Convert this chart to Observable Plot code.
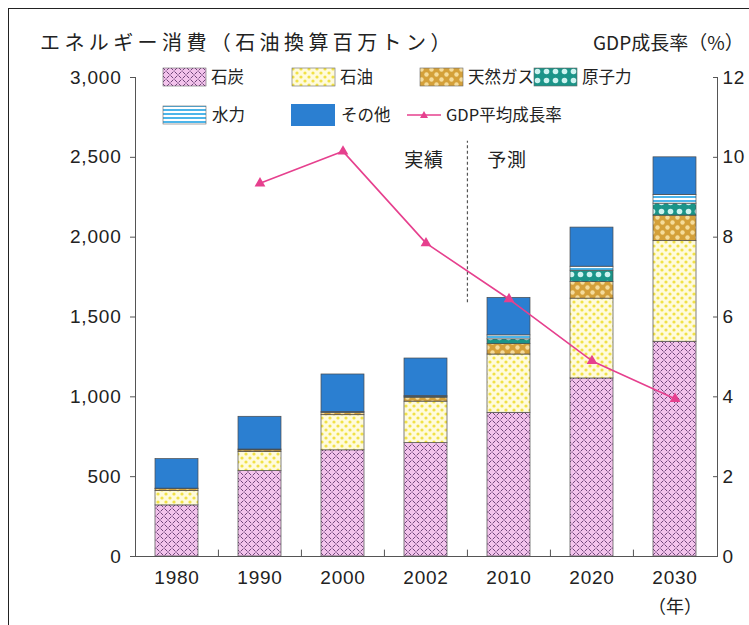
<!DOCTYPE html>
<html><head><meta charset="utf-8">
<script src="https://cdn.jsdelivr.net/npm/d3@7"></script>
<script src="https://cdn.jsdelivr.net/npm/@observablehq/plot@0.6"></script>
<style>
html,body{margin:0;padding:0;background:#fff;overflow:hidden}
#wrap{position:relative;width:749px;height:625px;overflow:hidden;font-family:"Noto Sans CJK JP","Liberation Sans",sans-serif;color:#222}
.frame{position:absolute;left:8px;top:8px;width:800px;height:700px;border-left:1.5px solid #222;border-top:1.5px solid #222;box-sizing:border-box}
.t{position:absolute;white-space:nowrap;line-height:1}
#chart{position:absolute;left:0;top:0}
#chart svg text{letter-spacing:0.8px}
.leg{position:absolute;white-space:nowrap;font-size:16.5px;line-height:1}
#legend svg{position:absolute}
</style></head><body>
<svg width="0" height="0" style="position:absolute">
 <defs>
  <pattern id="p-coal" width="8" height="8" patternUnits="userSpaceOnUse">
   <rect width="8" height="8" fill="#f3c3ec"/>
   <path d="M0.5,0.5 L3.2,3.2 M4.5,4.5 L7.5,7.5 M4.6,3.4 L7.4,0.6 M0.6,7.4 L3.4,4.6" stroke="#6f4579" stroke-width="1"/>
  </pattern>
  <pattern id="p-oil" width="8" height="8" patternUnits="userSpaceOnUse">
   <rect width="8" height="8" fill="#fffbdc"/>
   <circle cx="2" cy="2" r="1.6" fill="#f1e145"/>
   <circle cx="6" cy="6" r="1.6" fill="#f1e145"/>
  </pattern>
  <pattern id="p-gas" width="10" height="10" patternUnits="userSpaceOnUse">
   <rect width="10" height="10" fill="#d4a03a"/>
   <circle cx="2.5" cy="2.5" r="2.2" fill="#f5dc9c"/>
   <circle cx="7.5" cy="7.5" r="2.2" fill="#f5dc9c"/>
  </pattern>
  <pattern id="p-nuc" width="9" height="9" patternUnits="userSpaceOnUse">
   <rect width="9" height="9" fill="#1b9488"/>
   <circle cx="4.5" cy="4.5" r="2.8" fill="#cdf3f0"/>
  </pattern>
  <pattern id="p-hydro" width="4" height="4" patternUnits="userSpaceOnUse">
   <rect width="4" height="4" fill="#ffffff"/>
   <rect width="4" height="2" fill="#4cb5ea"/>
  </pattern>
 </defs>
</svg>
<div id="wrap">
 <div class="frame"></div>
 <div id="chart"></div>
 <div class="t" style="left:40px;top:32px;font-size:20px;letter-spacing:4.4px">エネルギー消費（石油換算百万トン）</div>
 <div class="t" style="left:593px;top:32px;font-size:19px;letter-spacing:0px">GDP成長率（%）</div>
 <div class="t" style="left:648px;top:596px;font-size:18px">（年）</div>
 <div id="legend"></div>
</div>
<script>
// ---- data ----
const years = ["1980","1990","2000","2002","2010","2020","2030"];
const coal    = [320, 535, 665, 710, 900, 1115, 1345];
const oil     = [90, 120, 220, 260, 365, 500, 630];
const gas     = [12, 10, 15, 25, 65, 105, 160];
const nuclear = [0, 0, 0, 5, 30, 70, 75];
const hydro   = [3, 5, 5, 5, 25, 25, 55];
const other   = [185, 205, 235, 235, 235, 245, 235];
const gdpYears = ["1990","2000","2002","2010","2020","2030"];
const gdp      = [9.35, 10.15, 7.85, 6.45, 4.9, 3.95];
const seriesNames = ["石炭","石油","天然ガス","原子力","水力","その他"];
const gdpName = "GDP平均成長率";
const yTicks = [0, 500, 1000, 1500, 2000, 2500, 3000];
const gdpTicks = [0, 2, 4, 6, 8, 10, 12];
const phaseLabels = ["実績","予測"];

const seriesValues = [coal, oil, gas, nuclear, hydro, other];
const fills = ["url(#p-coal)","url(#p-oil)","url(#p-gas)","url(#p-nuc)","url(#p-hydro)","#2b7fd1"];
const gdpColor = "#e6408e";
const ratio = 3000 / 12;

const rows = [];
years.forEach((yr, i) => seriesNames.forEach((s, k) => {
  if (seriesValues[k][i] > 0) rows.push({year: yr, type: s, value: seriesValues[k][i]});
}));
const gdpRows = gdpYears.map((yr, i) => ({year: yr, g: gdp[i]}));

const W = 749, H = 625, mL = 135, mR = 32, mT = 77, mB = 69;
const step = (W - mL - mR) / years.length;
const numFont = "'Liberation Sans', Arial, sans-serif";

const chart = Plot.plot({
  width: W, height: H,
  marginLeft: mL, marginRight: mR, marginTop: mT, marginBottom: mB,
  style: {fontFamily: numFont, color: "#222", background: "transparent", overflow: "visible"},
  x: {domain: years, type: "band", paddingInner: 0.48, paddingOuter: 0.22, axis: null},
  y: {domain: [0, 3000], axis: null},
  color: {type: "ordinal", domain: seriesNames, range: fills},
  marks: [
    Plot.barY(rows, Plot.stackY({x: "year", y: "value", fill: "type", order: seriesNames, stroke: "#4a4a4a", strokeWidth: 0.7})),
    Plot.frame({anchor: "left", stroke: "#555"}),
    Plot.frame({anchor: "right", stroke: "#555"}),
    Plot.ruleY([0], {stroke: "#555"}),
    Plot.ruleX(years.slice(1), {x: d => d, dx: -step / 2, y1: 0, y2: 40, stroke: "#555"}),
    Plot.axisY({anchor: "left", ticks: yTicks, tickSize: 5, tickPadding: 9, tickFormat: d3.format(","), label: null, fontSize: 19, stroke: "#555", fill: "#222"}),
    Plot.axisY({anchor: "right", ticks: yTicks, tickSize: -5, tickPadding: 10, tickFormat: d => d3.format("d")(d / ratio), label: null, fontSize: 19, stroke: "#555", fill: "#222"}),
    Plot.axisX({ticks: years, tickSize: 0, tickPadding: 14, label: null, fontSize: 19, fill: "#222"}),
    Plot.ruleX(["2010"], {dx: -step / 2, y1: 1590, y2: 2600, stroke: "#555", strokeDasharray: "3,2.5", strokeWidth: 1.2}),
    Plot.text([{x: "2002", t: phaseLabels[0]}, {x: "2010", t: phaseLabels[1]}], {x: "x", y: 2480, text: "t", fontSize: 19, fontFamily: "'Noto Sans CJK JP', sans-serif", fill: "#222", dx: -2}),
    Plot.line(gdpRows, {x: "year", y: d => d.g * ratio, stroke: gdpColor, strokeWidth: 1.6}),
    Plot.dot(gdpRows, {x: "year", y: d => d.g * ratio, symbol: "triangle", r: 4, fill: gdpColor})
  ]
});
document.getElementById("chart").appendChild(chart);

// ---- legend (inside plot area) ----
const legendLayout = [
  {k: 0, sx: 163, tx: 211, cy: 77},
  {k: 1, sx: 292, tx: 340, cy: 77},
  {k: 2, sx: 420, tx: 468, cy: 77},
  {k: 3, sx: 534, tx: 582, cy: 77},
  {k: 4, sx: 163, tx: 212, cy: 115},
  {k: 5, sx: 291, tx: 341, cy: 115}
];
const leg = document.getElementById("legend");
const ns = "http://www.w3.org/2000/svg";
legendLayout.forEach(({k, sx, tx, cy}) => {
  const h = k === 5 ? 22 : 18, w = k === 5 ? 44 : 43;
  const s = document.createElementNS(ns, "svg");
  s.setAttribute("width", w + 2); s.setAttribute("height", h + 2);
  s.style.left = (sx - 1) + "px"; s.style.top = (cy - h / 2 - 1) + "px";
  const r = document.createElementNS(ns, "rect");
  r.setAttribute("x", 1); r.setAttribute("y", 1); r.setAttribute("width", w); r.setAttribute("height", h);
  r.setAttribute("fill", fills[k]);
  if (k !== 5) { r.setAttribute("stroke", "#666"); r.setAttribute("stroke-width", "0.6"); }
  s.appendChild(r);
  leg.appendChild(s);
  const t = document.createElement("div");
  t.className = "leg"; t.textContent = seriesNames[k];
  t.style.left = tx + "px"; t.style.top = (cy - 9) + "px";
  leg.appendChild(t);
});
{
  const s = document.createElementNS(ns, "svg");
  s.setAttribute("width", 36); s.setAttribute("height", 12);
  s.style.left = "406px"; s.style.top = "109px";
  s.innerHTML = `<line x1="1" y1="6" x2="35" y2="6" stroke="${gdpColor}" stroke-width="1.6"/><path d="M18,2 L22,9 L14,9 Z" fill="${gdpColor}"/>`;
  leg.appendChild(s);
  const t = document.createElement("div");
  t.className = "leg"; t.textContent = gdpName;
  t.style.left = "446px"; t.style.top = "106px";
  leg.appendChild(t);
}
</script>
</body></html>
